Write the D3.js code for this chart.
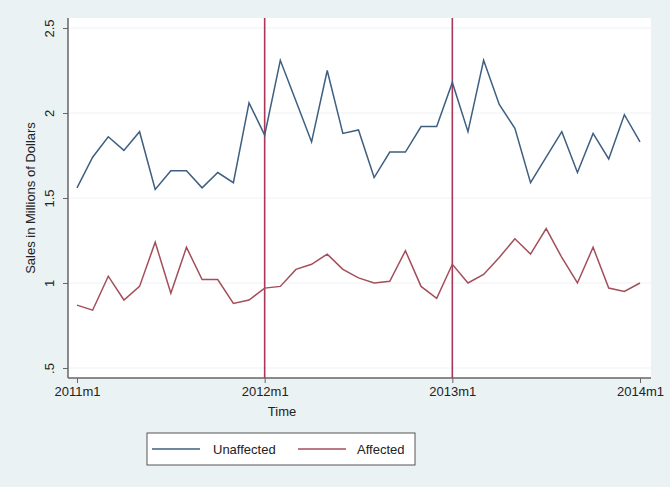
<!DOCTYPE html>
<html>
<head>
<meta charset="utf-8">
<script src="https://cdn.jsdelivr.net/npm/d3@7"></script>
<style>
html,body{margin:0;padding:0;background:#eaf2f3;}
svg{display:block;font-family:"Liberation Sans",Arial,sans-serif;}
</style>
</head>
<body>
<svg id="chart" width="670" height="487"></svg>
<script>
const months = d3.range(37); // 2011m1 .. 2014m1, index in months
const unaffected = [1.56,1.74,1.86,1.78,1.89,1.55,1.66,1.66,1.56,1.65,1.59,2.06,
  1.87,2.31,2.07,1.83,2.25,1.88,1.90,1.62,1.77,1.77,1.92,1.92,
  2.18,1.89,2.31,2.05,1.91,1.59,1.74,1.89,1.65,1.88,1.73,1.99,1.83];
const affected = [0.87,0.84,1.04,0.90,0.98,1.24,0.94,1.21,1.02,1.02,0.88,0.90,
  0.97,0.98,1.08,1.11,1.17,1.08,1.03,1.00,1.01,1.19,0.98,0.91,
  1.11,1.00,1.05,1.15,1.26,1.17,1.32,1.15,1.00,1.21,0.97,0.95,1.00];
const xTicks = [0,12,24,36];
const xTickLabels = ["2011m1","2012m1","2013m1","2014m1"];
const yTicks = [0.5,1,1.5,2,2.5];
const yTickLabels = [".5","1","1.5","2","2.5"];
const eventLines = [12,24];
const seriesNames = ["Unaffected","Affected"];
const seriesColors = ["#3e5f80","#a44e5a"];

const svg = d3.select("#chart");
const plot = {left:68, right:651, top:18, bottom:378};

svg.append("rect").attr("x",plot.left).attr("y",plot.top)
  .attr("width",plot.right-plot.left).attr("height",plot.bottom-plot.top)
  .attr("fill","#ffffff");

const x = d3.scaleLinear().domain([0,36]).range([77,640]);
const y = d3.scaleLinear().domain([0.5,2.5]).range([368,28]);

// gridlines
svg.append("g").selectAll("line").data(yTicks).join("line")
  .attr("x1",plot.left).attr("x2",plot.right)
  .attr("y1",d=>y(d)).attr("y2",d=>y(d))
  .attr("stroke","#eef1f3").attr("stroke-width",1);

// y axis
const yAxis = d3.axisLeft(y).tickValues(yTicks)
  .tickFormat((d,i)=>yTickLabels[i]).tickSize(5).tickPadding(4);
const gy = svg.append("g").attr("transform",`translate(${plot.left},0)`).call(yAxis);
gy.select(".domain").attr("d",`M0,${plot.top}V${plot.bottom}`).attr("stroke","#666").attr("stroke-width",1.5);
gy.selectAll(".tick line").attr("stroke","#666");
gy.selectAll(".tick text")
  .attr("font-size",13).attr("fill","#222")
  .attr("text-anchor","middle").attr("dominant-baseline","auto")
  .attr("x",0).attr("dy",0)
  .attr("transform","translate(-14,0) rotate(-90)");

// x axis
const xAxis = d3.axisBottom(x).tickValues(xTicks)
  .tickFormat((d,i)=>xTickLabels[i]).tickSize(5).tickPadding(4);
const gx = svg.append("g").attr("transform",`translate(0,${plot.bottom})`).call(xAxis);
gx.select(".domain").attr("d",`M${plot.left},0H${plot.right}`).attr("stroke","#666").attr("stroke-width",1.5);
gx.selectAll(".tick line").attr("stroke","#666");
gx.selectAll(".tick text").attr("font-size",13).attr("fill","#222");

// event lines
svg.append("g").selectAll("line").data(eventLines).join("line")
  .attr("x1",d=>x(d)).attr("x2",d=>x(d))
  .attr("y1",plot.top).attr("y2",plot.bottom)
  .attr("stroke","#a8375a").attr("stroke-width",1.6);

// series
const line = d3.line().x((d,i)=>x(months[i])).y(d=>y(d));
[unaffected,affected].forEach((s,k)=>{
  svg.append("path").datum(s).attr("d",line)
    .attr("fill","none").attr("stroke",seriesColors[k])
    .attr("stroke-width",1.5).attr("stroke-linejoin","miter");
});

// axis titles
svg.append("text").attr("x",282).attr("y",416).attr("text-anchor","middle")
  .attr("font-size",13).attr("fill","#222").text("Time");
svg.append("text").attr("transform","translate(35,198) rotate(-90)")
  .attr("text-anchor","middle").attr("font-size",13).attr("fill","#222")
  .text("Sales in Millions of Dollars");

// legend
const lg = svg.append("g");
lg.append("rect").attr("x",147).attr("y",433).attr("width",268).attr("height",32)
  .attr("fill","#fff").attr("stroke","#555").attr("stroke-width",1);
const entries = [{x1:152,x2:200,tx:213},{x1:298,x2:346,tx:357}];
entries.forEach((e,k)=>{
  lg.append("line").attr("x1",e.x1).attr("x2",e.x2).attr("y1",449).attr("y2",449)
    .attr("stroke",seriesColors[k]).attr("stroke-width",1.5);
  lg.append("text").attr("x",e.tx).attr("y",454).attr("font-size",13).attr("fill","#222")
    .text(seriesNames[k]);
});
</script>
</body>
</html>
